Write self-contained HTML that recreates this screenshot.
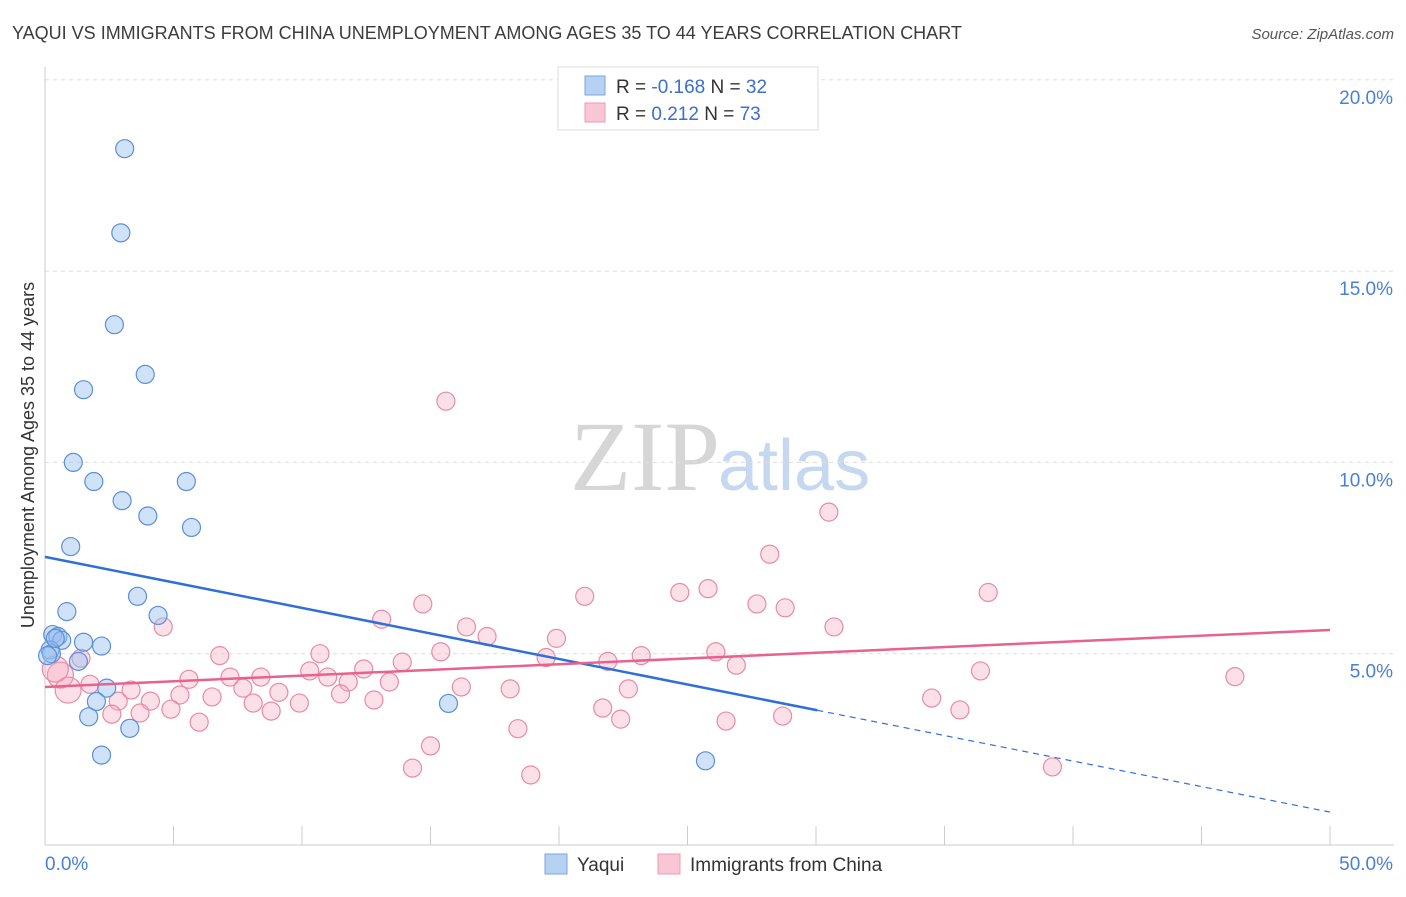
<!DOCTYPE html>
<html><head><meta charset="utf-8"><style>
body{margin:0;background:#fff;font-family:"Liberation Sans",sans-serif}
</style></head><body>
<svg id="c" width="1406" height="892" xmlns="http://www.w3.org/2000/svg" style="font-family:'Liberation Sans',sans-serif">
<text x="12" y="39" font-size="18" fill="#3c3c3c">YAQUI VS IMMIGRANTS FROM CHINA UNEMPLOYMENT AMONG AGES 35 TO 44 YEARS CORRELATION CHART</text>
<text x="1394" y="39" font-size="15" fill="#555" font-style="italic" text-anchor="end">Source: ZipAtlas.com</text>
<text x="720" y="490" font-size="100" fill="#d6d6d6" text-anchor="end" font-family="Liberation Serif,serif">ZIP</text>
<text x="718" y="490" font-size="72" fill="#c5d8f0">atlas</text>
<text transform="translate(34,455) rotate(-90)" font-size="18" fill="#333" text-anchor="middle">Unemployment Among Ages 35 to 44 years</text>
<g id="grid"></g><g id="axes"></g><g id="pts"></g><g id="lines"></g>
<g>
<rect x="558" y="67" width="260" height="63" fill="#fff" stroke="#ddd"/>
<rect x="585" y="76" width="20" height="19" fill="#b7d1f3" stroke="#7aa6e0"/>
<rect x="585" y="103" width="20" height="19" fill="#f9c6d5" stroke="#ec9bb4"/>
<text x="616" y="93" font-size="19" fill="#333">R = <tspan fill="#3a6fd0">-0.168</tspan>   N = <tspan fill="#3a6fd0">32</tspan></text>
<text x="616" y="120" font-size="19" fill="#333">R =   <tspan fill="#3a6fd0">0.212</tspan>   N = <tspan fill="#3a6fd0">73</tspan></text>
</g>
<g>
<rect x="545" y="854" width="22" height="20" fill="#b7d1f3" stroke="#7aa6e0"/>
<text x="577" y="871" font-size="19" fill="#333">Yaqui</text>
<rect x="658" y="854" width="22" height="20" fill="#f9c6d5" stroke="#ec9bb4"/>
<text x="690" y="871" font-size="19" fill="#333">Immigrants from China</text>
</g>
</svg>
<script>
const yTicks=[5,10,15,20];
const xTickLabels=["0.0%","50.0%"];
const yaquiX=[3.1,2.95,2.7,3.9,1.5,1.1,1.9,5.5,3.0,4.0,5.7,1.0,3.6,0.85,4.4,0.3,0.5,0.65,1.5,2.2,0.2,0.25,1.3,2.4,2.0,1.7,3.3,2.2,15.7,25.7,0.4,0.1];
const yaquiY=[18.2,16.0,13.6,12.3,11.9,10.0,9.5,9.5,9.0,8.6,8.3,7.8,6.5,6.1,6.0,5.5,5.45,5.35,5.3,5.2,5.1,5.0,4.8,4.1,3.75,3.35,3.05,2.35,3.7,2.2,5.4,4.95];
const chinaX=[15.6,30.5,28.2,36.7,25.8,24.7,21.0,27.7,28.8,14.7,13.1,30.7,16.4,17.2,19.9,4.6,10.7,15.4,23.2,6.8,26.1,19.5,21.9,13.9,26.9,12.4,10.3,36.4,46.3,1.4,0.6,5.6,7.2,8.4,11.0,11.8,7.7,9.1,13.4,16.2,18.1,22.7,0.9,1.75,3.35,5.25,6.5,4.1,11.5,9.9,8.1,2.85,4.9,8.8,12.8,3.7,2.6,34.5,35.6,21.7,22.4,26.5,28.7,18.4,6.0,15.0,14.3,18.9,39.2,0.4];
const chinaY=[11.6,8.7,7.6,6.6,6.7,6.6,6.5,6.3,6.2,6.3,5.9,5.7,5.7,5.45,5.4,5.7,5.0,5.05,4.95,4.95,5.05,4.9,4.8,4.78,4.7,4.6,4.55,4.55,4.4,4.88,4.44,4.33,4.39,4.39,4.39,4.26,4.1,3.99,4.26,4.13,4.08,4.08,4.05,4.2,4.05,3.92,3.87,3.76,3.95,3.71,3.71,3.76,3.55,3.5,3.79,3.45,3.42,3.84,3.53,3.58,3.29,3.24,3.37,3.04,3.21,2.59,2.01,1.83,2.04,4.6];
const yaquiTrend=[7.53,0.86]; // value at 0% and 50%
const chinaTrend=[4.13,5.62];
const yaquiSolidEnd=30.05;
const NS="http://www.w3.org/2000/svg";
const X=v=>45+v*25.7, Y=v=>845-v*38.26;
function mk(t,a,p){const e=document.createElementNS(NS,t);for(const k in a)e.setAttribute(k,a[k]);p.appendChild(e);return e;}
const grid=document.getElementById('grid'),axes=document.getElementById('axes'),pts=document.getElementById('pts'),lines=document.getElementById('lines');
yTicks.forEach(t=>{
 const l=mk('line',{x1:45,x2:1394,y1:Y(t),y2:Y(t),stroke:'#ddd','stroke-dasharray':'4,4'},grid);
 
 
 const tx=mk('text',{x:1393,y:Y(t)+24,'font-size':19,fill:'#4a7fd6','text-anchor':'end'},grid);
 tx.textContent=t.toFixed(1)+'%';
 
 
});
const ya=mk('line',{x1:45,x2:45,y1:67,y2:845,stroke:'#ccc'},axes);


const xa=mk('line',{x1:45,x2:1394,y1:845,y2:845,stroke:'#ccc'},axes);


for(let i=1;i<=10;i++){const tk=mk('line',{x1:X(i*5),x2:X(i*5),y1:826,y2:845,stroke:'#ccc'},axes);
 
 }
xTickLabels.forEach((s,i)=>{const t=mk('text',{x:i?1393:45,y:870,'font-size':19,fill:'#4a7fd6','text-anchor':i?'end':'start'},axes);t.textContent=s;
 
 });
chinaX.forEach((x,i)=>{const r=(x<1.5&&i>=69)||(x<1&&chinaY[i]>4)?13:9;
 const c=mk('circle',{cx:X(x),cy:Y(chinaY[i]),r:r,fill:'rgba(245,165,190,0.35)',stroke:'#e88aa6','stroke-width':1.2},pts);
 
 });
yaquiX.forEach((x,i)=>{const c=mk('circle',{cx:X(x),cy:Y(yaquiY[i]),r:9,fill:'rgba(150,190,240,0.45)',stroke:'#5b8fd8','stroke-width':1.2},pts);
 
 });
const yv=x=>yaquiTrend[0]+(yaquiTrend[1]-yaquiTrend[0])*x/50;
const l1=mk('line',{x1:X(0),y1:Y(yv(0)),x2:X(yaquiSolidEnd),y2:Y(yv(yaquiSolidEnd)),stroke:'#2f6fd6','stroke-width':2.5},lines);


const l2=mk('line',{x1:X(yaquiSolidEnd),y1:Y(yv(yaquiSolidEnd)),x2:X(50),y2:Y(yv(50)),stroke:'#2f6fd6','stroke-width':1.2,'stroke-dasharray':'6,5'},lines);


const l3=mk('line',{x1:X(0),y1:Y(chinaTrend[0]),x2:X(50),y2:Y(chinaTrend[1]),stroke:'#e8628f','stroke-width':2.5},lines);


</script>
</body></html>
